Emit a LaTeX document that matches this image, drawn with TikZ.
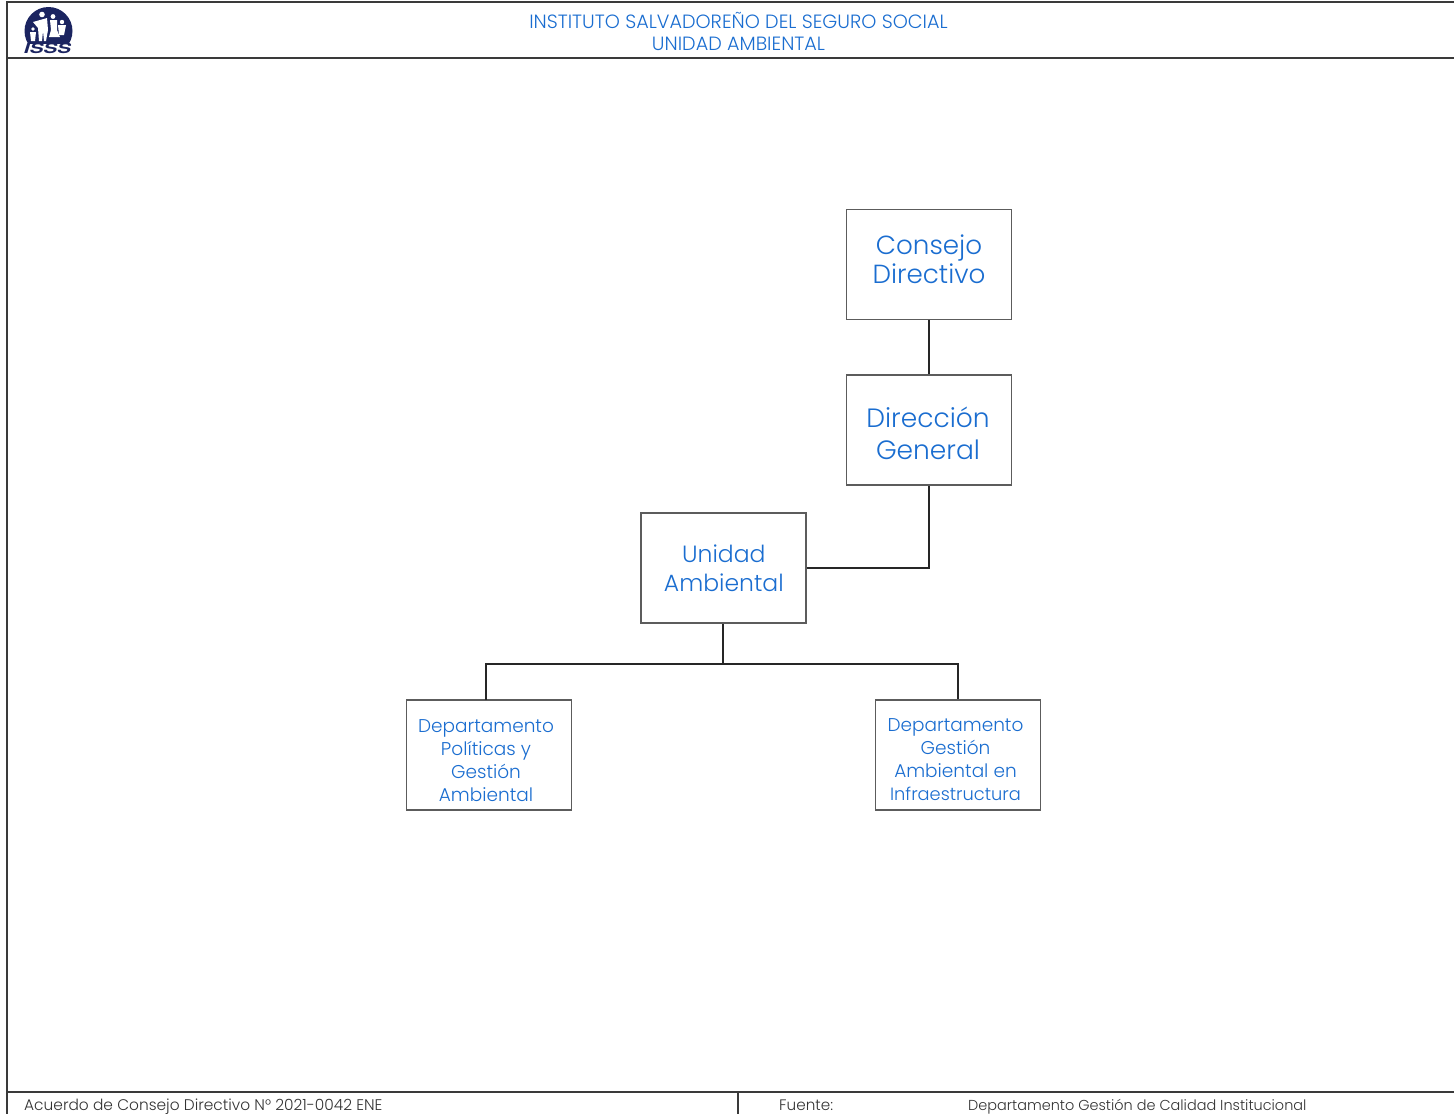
\documentclass[tikz,border=0pt]{standalone}
\usepackage{graphicx}
\usepackage{fontspec}
\setmainfont{Poppins Light}
\newfontfamily\logofont{TeX Gyre Heros}
\definecolor{txtblue}{HTML}{1A6DD0}
\definecolor{navy}{HTML}{1B2460}
\definecolor{rulegray}{HTML}{3A3A3A}
\definecolor{boxgray}{HTML}{5C5C5C}
\newcommand{\pushup}[1]{\rule[-#1]{0pt}{0pt}}
\newcommand{\pushdown}[1]{\rule{0pt}{#1}}
\begin{document}
\begin{tikzpicture}[x=1pt,y=-1pt,
  orgbox/.style={draw=boxgray,line width=1.8pt,fill=white,minimum width=165pt,minimum height=110pt,inner sep=0pt,align=center,text=txtblue},
  link/.style={draw=black!85,line width=1.7pt},
  frameline/.style={draw=rulegray,line width=2pt},
  foot/.style={anchor=base west,text=black!80,inner sep=0pt},
  head/.style={align=center,font=\fontsize{19.2}{22}\selectfont,text=txtblue,inner sep=0pt}]
\useasboundingbox (0,0) rectangle (1454,1114);
% frame
\draw[frameline] (1454,2) -- (7,2) -- (7,1114);
\draw[frameline] (7,57.5) -- (1454,57.5);
\draw[frameline] (7,1092) -- (1454,1092);
\draw[frameline,line width=1.6pt] (738,1092) -- (738,1114);
% header
\node[head] (title) at (738.5,31) {INSTITUTO SALVADOREÑO DEL SEGURO SOCIAL\\UNIDAD AMBIENTAL};
% logo
\fill[navy] (48.5,31) circle (24);
\fill[white] (42,14.5) circle (2.8) (53,16.5) circle (2.4) (62,22) circle (2.2) (33,29) circle (1.9);
\fill[white] (33,22) -- (47,18) -- (48,30) -- (46,41) -- (44,41) -- (43,31) -- (42,41) -- (39,41) -- (38,28) -- cycle;
\fill[white] (50,20) -- (57,20) -- (57,30) -- (60,37) -- (49,37) -- (51,30) -- cycle;
\fill[white] (58,25) -- (66,25) -- (64,35) -- (59,35) -- cycle;
\fill[white] (30,32) -- (36,32) -- (35,41) -- (31,41) -- cycle;
\fill[white] (22,43.5) rectangle (75,56);
\node[inner sep=0pt,text=navy] (logotext) at (47.5,48) {\resizebox{47pt}{10.5pt}{\logofont\bfseries\itshape ISSS}};
% boxes
\node[orgbox,font=\fontsize{26.2}{29}\selectfont] (cd) at (929,264.5) {Consejo\\Directivo\pushup{10pt}};
\node[orgbox,font=\fontsize{26.5}{32}\selectfont] (dg) at (929,430) {\hspace*{-2pt}\pushdown{28pt}Dirección\\\hspace*{-2pt}General};
\node[orgbox,font=\fontsize{23.5}{29}\selectfont] (ua) at (723.3,568) {\hspace*{1pt}Unidad\\\hspace*{1pt}Ambiental};
\node[orgbox,font=\fontsize{18.5}{23}\selectfont] (d1) at (489,755) {\hspace*{-6pt}\pushdown{24pt}Departamento\\\hspace*{-6pt}Políticas y\\\hspace*{-6pt}Gestión\\\hspace*{-6pt}Ambiental};
\node[orgbox,font=\fontsize{18.5}{23}\selectfont] (d2) at (958,755) {\hspace*{-5pt}\pushdown{22pt}Departamento\\\hspace*{-5pt}Gestión\\\hspace*{-5pt}Ambiental en\\\hspace*{-5pt}{\fontsize{17.8}{23}\selectfont Infraestructura}};
% connectors
\draw[link] (cd.south) -- (dg.north);
\draw[link] (ua.east) -| (dg.south);
\coordinate (bus) at (723.3,664);
\coordinate (d1top) at (486,700);
\draw[link] (ua.south) -- (bus);
\draw[link] (d1top) |- (bus) -| (d2.north);
% footer
\node[foot,font=\fontsize{15.4}{18}\selectfont] (acuerdo) at (24,1110.5) {Acuerdo de Consejo Directivo N° 2021-0042 ENE};
\node[foot,font=\fontsize{15.2}{18}\selectfont] (fuente) at (779,1110.5) {Fuente:};
\node[foot,font=\fontsize{14.45}{18}\selectfont] (dep) at (968,1110.5) {Departamento Gestión de Calidad Institucional};
\end{tikzpicture}
\end{document}
